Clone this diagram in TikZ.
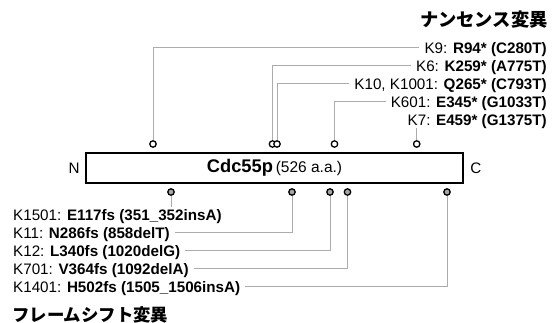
\documentclass[tikz,border=0pt]{standalone}
\usepackage{fontspec}
\setmainfont{Liberation Sans}
\newfontfamily\cjk{Noto Sans CJK JP}
\usetikzlibrary{positioning}
\tikzset{
  protein/.style={draw, line width=1.7pt, minimum width=377pt, minimum height=30pt, inner sep=0pt},
  nonsense/.style={circle, draw, line width=1.3pt, fill=white, minimum size=6.4pt, inner sep=0pt},
  frameshift/.style={nonsense, fill=gray!70},
  lead/.style={gray!65, line width=1pt},
  mutlabel/.style={inner xsep=5pt, inner ysep=2.5pt, text height=10.5pt, text depth=0pt, font=\fontsize{15.2}{18}\selectfont},
  title/.style={inner sep=0pt, font=\cjk\bfseries\fontsize{18.3}{20}\selectfont}
}

\begin{document}
\begin{tikzpicture}[x=1pt, y=-1pt]
        \useasboundingbox (0,0) rectangle (552,323);
        \node[protein] (prot) at (274.5,168) {{\fontsize{18.3}{20}\selectfont\bfseries Cdc55p} {\fontsize{15.5}{18}\selectfont (526 a.a.)}};
        \node[left=2pt of prot, font=\fontsize{15.2}{18}\selectfont] (nterm) {N};
        \node[right=3pt of prot, font=\fontsize{15.2}{18}\selectfont] (cterm) {C};
        \node[title, anchor=east] (nonsensettl) at (548,20) {ナンセンス変異};
        \node[title, anchor=west, font=\cjk\bfseries\fontsize{17.4}{20}\selectfont] (framettl) at (12,315) {フレームシフト変異};
        \node[nonsense] (o1) at (153,144) {};
        \node[nonsense] (o2) at (272.5,144) {};
        \node[nonsense] (o3) at (277,144) {};
        \node[nonsense] (o4) at (334.5,144) {};
        \node[nonsense] (o5) at (416.7,144) {};
        \node[frameshift] (g1) at (171,192) {};
        \node[frameshift] (g2) at (292,192) {};
        \node[frameshift] (g3) at (330,192) {};
        \node[frameshift] (g4) at (347.5,192) {};
        \node[frameshift] (g5) at (447,192) {};
        \node[mutlabel, anchor=east] (k9)   at (552,48)  {K9: \textbf{R94* (C280T)}};
        \node[mutlabel, anchor=east] (k6)   at (552,66)  {K6: \textbf{K259* (A775T)}};
        \node[mutlabel, anchor=east] (k10)  at (552,84)  {K10, K1001: \textbf{Q265* (C793T)}};
        \node[mutlabel, anchor=east] (k601) at (552,102) {K601: \textbf{E345* (G1033T)}};
        \node[mutlabel, anchor=east] (k7)   at (552,120) {K7: \textbf{E459* (G1375T)}};
        \node[mutlabel, anchor=west] (k1501) at (8,215) {K1501: \textbf{E117fs (351\_352insA)}};
        \node[mutlabel, anchor=west] (k11)   at (8,233) {K11: \textbf{N286fs (858delT)}};
        \node[mutlabel, anchor=west] (k12)   at (8,251) {K12: \textbf{L340fs (1020delG)}};
        \node[mutlabel, anchor=west] (k701)  at (8,269) {K701: \textbf{V364fs (1092delA)}};
        \node[mutlabel, anchor=west] (k1401) at (8,287) {K1401: \textbf{H502fs (1505\_1506insA)}};
        \draw[lead] (o1) |- (k9);
        \draw[lead] (o2) |- (k6);
        \draw[lead] (o3) |- (k10);
        \draw[lead] (o4) |- (k601);
        \draw[lead] (o5) -- (o5 |- k7.south);
        \draw[lead] (g1) -- (g1 |- k1501.north);
        \draw[lead] (k11) -| (g2);
        \draw[lead] (k12) -| (g3);
        \draw[lead] (k701) -| (g4);
        \draw[lead] (k1401) -| (g5);
      \end{tikzpicture}
\end{document}
